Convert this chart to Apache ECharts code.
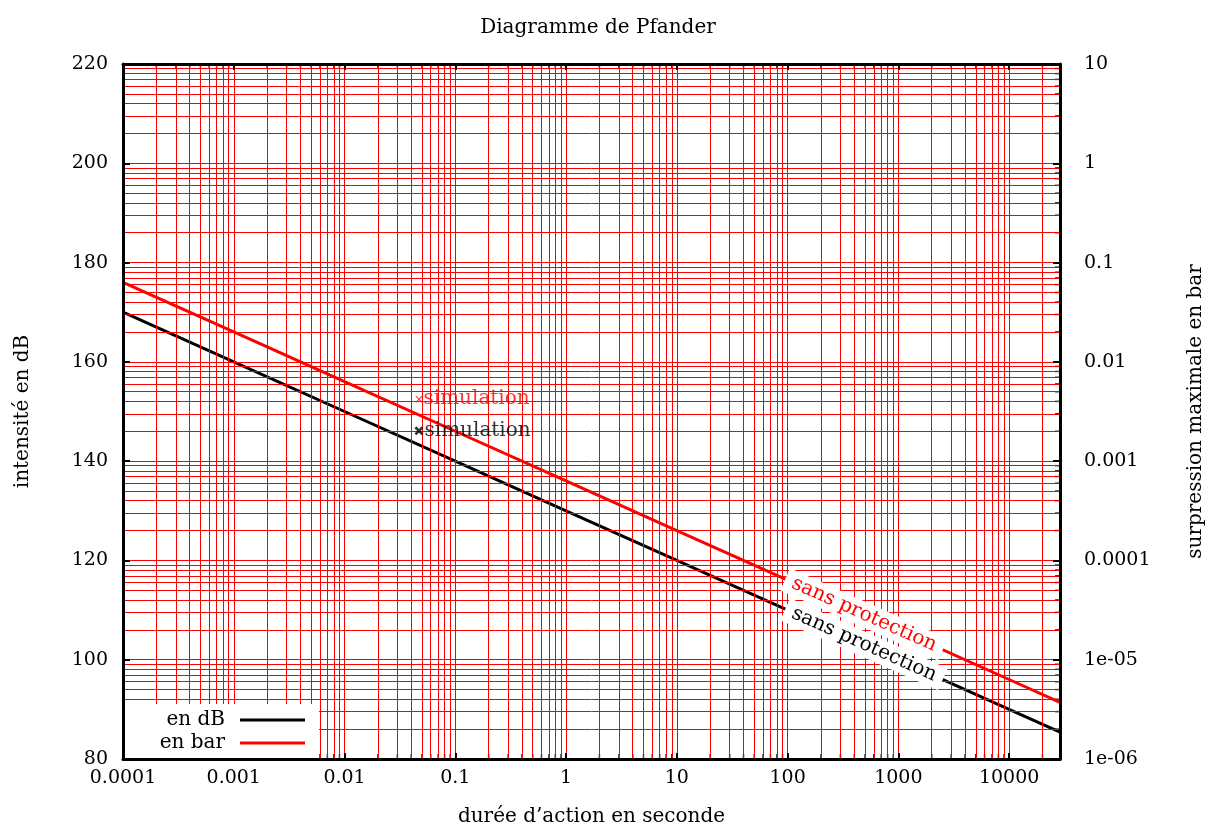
<!DOCTYPE html>
<html>
<head>
<meta charset="utf-8">
<script src="https://cdn.jsdelivr.net/npm/echarts@6/dist/echarts.min.js"></script>
<style>html,body{margin:0;padding:0;background:#fff}#chart{width:1218px;height:832px}</style>
</head>
<body>
<div id="chart"></div>
<script>
// ---- data ----
const durations = [0.0001, 0.001, 0.01, 0.1, 1, 10, 100, 1000, 10000, 28800];
const intensityDb = [170, 160, 150, 140, 130, 120, 110, 100, 90, 85.4];
const pressureBar = [0.0632, 0.02, 0.00632, 0.002, 0.000632, 0.0002, 0.0000632, 0.00002, 0.00000632, 0.00000372];
const simDuration = [0.047];
const simDb = [146.1];
const simBar = [0.0042];
const xTickLabels = ['0.0001', '0.001', '0.01', '0.1', '1', '10', '100', '1000', '10000'];
const yRightTickLabels = ['1e-06', '1e-05', '0.0001', '0.001', '0.01', '0.1', '1', '10'];
const xDecades = [-4, -3, -2, -1, 0, 1, 2, 3, 4];
const yDecades = [-6, -5, -4, -3, -2, -1, 0];
const multipliers = [1, 2, 3, 4, 5, 6, 7, 8, 9];

const X_MIN = 0.0001, X_MAX = 28800, YL_MIN = 80, YL_MAX = 220, YR_MIN = 1e-6, YR_MAX = 10;
const FONT = 'DejaVu Serif';
const RED = '#ff0000';

function isDecade(v) { const l = Math.log10(v); return Math.abs(l - Math.round(l)) < 1e-6; }

// grid/tick positions on log scales
const xGridVals = [], xMinorVals = [];
xDecades.forEach(d => multipliers.forEach(m => {
  const v = m * Math.pow(10, d);
  if (v > X_MIN * 1.0001 && v < X_MAX * 0.9999) { xGridVals.push(v); if (m !== 1) xMinorVals.push(v); }
}));
const yGridVals = [], yMinorVals = [];
yDecades.forEach(d => multipliers.forEach(m => {
  const v = m * Math.pow(10, d);
  if (v > YR_MIN * 1.0001 && v < YR_MAX * 0.9999) { yGridVals.push(v); if (m !== 1) yMinorVals.push(v); }
}));

const vGrid = xGridVals.map(v => ({ xAxis: v }));
const hGrid = yGridVals.map(v => ({ yAxis: v }));
const bottomTicks = xMinorVals.map(v => [v, YL_MIN]);
const topTicks = xMinorVals.map(v => [v, YL_MAX]);
const rightTicks = yMinorVals.map(v => [X_MAX, v]);

const pairs = (xs, ys) => xs.map((x, i) => [x, ys[i]]);
const crossPath = 'path://M2,0 L5,3 L8,0 L10,2 L7,5 L10,8 L8,10 L5,7 L2,10 L0,8 L3,5 L0,2 Z';
const thinCross = 'path://M1,0 L5,4 L9,0 L10,1 L6,5 L10,9 L9,10 L5,6 L1,10 L0,9 L4,5 L0,1 Z';

function gridSeries(name, yIdx, data) {
  return {
    name: name, type: 'line', xAxisIndex: 0, yAxisIndex: yIdx, data: [], z: 1, silent: true,
    markLine: {
      silent: true, precision: 12, symbol: ['none', 'none'], label: { show: false }, animation: false,
      lineStyle: { color: RED, width: 1, type: 'solid', opacity: 1 },
      emphasis: { disabled: true },
      data: data
    }
  };
}
function tickSeries(name, yIdx, data, size, offset) {
  return {
    name: name, type: 'scatter', xAxisIndex: 0, yAxisIndex: yIdx, data: data, z: 2, silent: true,
    symbol: 'rect', symbolSize: size, symbolOffset: offset, itemStyle: { color: '#000' },
    emphasis: { disabled: true }, clip: false
  };
}

const chart = echarts.init(document.getElementById('chart'), null, { renderer: 'canvas' });
chart.setOption({
  animation: false,
  backgroundColor: '#fff',
  textStyle: { fontFamily: FONT, color: '#000' },
  tooltip: { show: false },
  title: {
    text: 'Diagramme de Pfander', left: 593, top: 13, textAlign: 'center',
    textStyle: { fontFamily: FONT, fontSize: 20, fontWeight: 'normal', color: '#000' }
  },
  grid: { left: 123, right: 158, top: 64, bottom: 69, containLabel: false },
  legend: {
    data: ['en dB', 'en bar'], orient: 'vertical', left: 125, top: 704, align: 'right',
    icon: 'rect', itemWidth: 65, itemHeight: 3, itemGap: 3, padding: [6, 14, 5, 30],
    backgroundColor: '#fff', z: 10,
    textStyle: { fontFamily: FONT, fontSize: 20, color: '#000', width: 70, align: 'right', lineHeight: 20, padding: [0, 10, 0, 0] }
  },
  xAxis: [{
    type: 'log', min: X_MIN, max: X_MAX, interval: 1, logBase: 10, position: 'bottom', z: 6,
    name: 'durée d’action en seconde', nameLocation: 'middle', nameGap: 48,
    nameTextStyle: { fontFamily: FONT, fontSize: 20, color: '#000' },
    axisLine: { show: true, lineStyle: { color: '#000', width: 3 } },
    axisTick: { show: true, inside: true, length: 6, lineStyle: { color: '#000', width: 2 } },
    splitLine: { show: false }, minorTick: { show: false }, minorSplitLine: { show: false },
    axisLabel: {
      margin: 10, fontFamily: FONT, fontSize: 19, color: '#000', showMinLabel: true, showMaxLabel: true,
      formatter: v => isDecade(v) ? (xTickLabels[Math.round(Math.log10(v)) + 4] || '') : ''
    }
  }, {
    type: 'log', min: X_MIN, max: X_MAX, interval: 1, logBase: 10, position: 'top', z: 6,
    axisLine: { show: true, lineStyle: { color: '#000', width: 3 } },
    axisTick: { show: true, inside: true, length: 6, lineStyle: { color: '#000', width: 2 } },
    axisLabel: { show: false }, splitLine: { show: false }, minorSplitLine: { show: false }
  }],
  yAxis: [{
    type: 'value', min: YL_MIN, max: YL_MAX, interval: 20, position: 'left', z: 6,
    name: 'intensité en dB', nameLocation: 'middle', nameGap: 90, nameRotate: 90,
    nameTextStyle: { fontFamily: FONT, fontSize: 20, color: '#000' },
    axisLine: { show: true, lineStyle: { color: '#000', width: 3 } },
    axisTick: { show: true, inside: true, length: 7, lineStyle: { color: '#000', width: 2 } },
    splitLine: { show: false }, minorSplitLine: { show: false },
    axisLabel: { margin: 15, fontFamily: FONT, fontSize: 19, color: '#000' }
  }, {
    type: 'log', min: YR_MIN, max: YR_MAX, interval: 1, logBase: 10, position: 'right', z: 6,
    name: 'surpression maximale en bar', nameLocation: 'middle', nameGap: 126, nameRotate: 90,
    nameTextStyle: { fontFamily: FONT, fontSize: 20, color: '#000' },
    axisLine: { show: true, lineStyle: { color: '#000', width: 3 } },
    axisTick: { show: true, inside: true, length: 7, lineStyle: { color: '#000', width: 2 } },
    splitLine: { show: false }, minorSplitLine: { show: false },
    axisLabel: {
      margin: 24, fontFamily: FONT, fontSize: 19, color: '#000', showMinLabel: true, showMaxLabel: true,
      formatter: v => isDecade(v) ? (yRightTickLabels[Math.round(Math.log10(v)) + 6] || '') : ''
    }
  }],
  series: [
    gridSeries('vGrid', 0, vGrid),
    gridSeries('hGrid', 1, hGrid),
    tickSeries('bottomTicks', 0, bottomTicks, [1.5, 6], [0, -2]),
    tickSeries('topTicks', 0, topTicks, [1.5, 6], [0, 2]),
    tickSeries('rightTicks', 1, rightTicks, [6, 1.5], [-2, 0]),
    {
      name: 'en dB', type: 'line', xAxisIndex: 0, yAxisIndex: 0, data: pairs(durations, intensityDb),
      symbol: 'none', color: '#000', lineStyle: { color: '#000', width: 3 }, z: 3,
      markPoint: {
        symbol: 'circle', symbolSize: 0, z: 5,
        data: [{ coord: [490, 103.1] }],
        label: {
          show: true, position: 'inside', formatter: 'sans protection', rotate: -24,
          fontFamily: FONT, fontSize: 20, color: '#000', backgroundColor: '#fff', padding: [3, 8, 1, 8]
        }
      }
    },
    {
      name: 'en bar', type: 'line', xAxisIndex: 0, yAxisIndex: 1, data: pairs(durations, pressureBar),
      symbol: 'none', color: RED, lineStyle: { color: RED, width: 3 }, z: 3,
      markPoint: {
        symbol: 'circle', symbolSize: 0, z: 6,
        data: [{ coord: [490, 0.0000286] }],
        label: {
          show: true, position: 'inside', formatter: 'sans protection', rotate: -24,
          fontFamily: FONT, fontSize: 20, color: RED, backgroundColor: '#fff', padding: [3, 8, 1, 8]
        }
      }
    },
    {
      name: 'simDb', type: 'scatter', xAxisIndex: 0, yAxisIndex: 0, data: pairs(simDuration, simDb),
      symbol: crossPath, symbolSize: 9, itemStyle: { color: '#000' }, z: 7,
      label: { show: true, position: 'right', distance: 1, formatter: 'simulation', fontFamily: FONT, fontSize: 20, color: '#000' }
    },
    {
      name: 'simBar', type: 'scatter', xAxisIndex: 0, yAxisIndex: 1, data: pairs(simDuration, simBar),
      symbol: thinCross, symbolSize: 7, itemStyle: { color: RED }, z: 7,
      label: { show: true, position: 'right', distance: 1, formatter: 'simulation', fontFamily: FONT, fontSize: 20, color: RED }
    }
  ]
});
</script>
</body>
</html>
